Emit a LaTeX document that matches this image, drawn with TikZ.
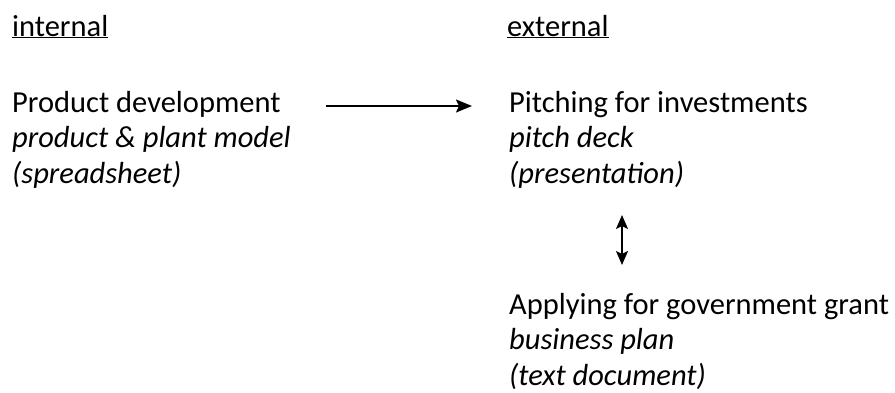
\documentclass[tikz,border=0pt]{standalone}
\usepackage{fontspec}
\setmainfont{Carlito}
\usetikzlibrary{arrows.meta}
\begin{document}
\begin{tikzpicture}[x=1pt,y=1pt,
  txt/.style={anchor=base west,inner sep=0pt,align=left,font=\fontsize{30.5}{35.5}\selectfont},
  conn/.style={line width=1.8pt,-{Stealth[length=16pt,width=13pt,inset=3pt]}},
  conn2/.style={line width=1.8pt,{Stealth[length=14pt,width=12pt,inset=3pt]}-{Stealth[length=14pt,width=12pt,inset=3pt]}}]
\useasboundingbox (0,0) rectangle (895,-392);
\node[txt] (hint) at (12,-36) {\underline{internal}};
\node[txt] (hext) at (507,-36) {\underline{external}};
\node[txt] (prod) at (12,-183) {Product development\\\textit{product \& plant model}\\\textit{(spreadsheet)}};
\node[txt] (pitch) at (509,-183) {Pitching for investments\\\textit{pitch deck}\\\textit{(presentation)}};
\node[txt] (apply) at (509,-385) {Applying for government grant\\\textit{business plan}\\\textit{(text document)}};
\coordinate (a1) at (326,-106);
\coordinate (a2) at (472,-106);
\coordinate (b1) at (622,-215);
\coordinate (b2) at (622,-265);
\draw[conn] (a1) -- (a2);
\draw[conn2] (b1) -- (b2);
\end{tikzpicture}
\end{document}
